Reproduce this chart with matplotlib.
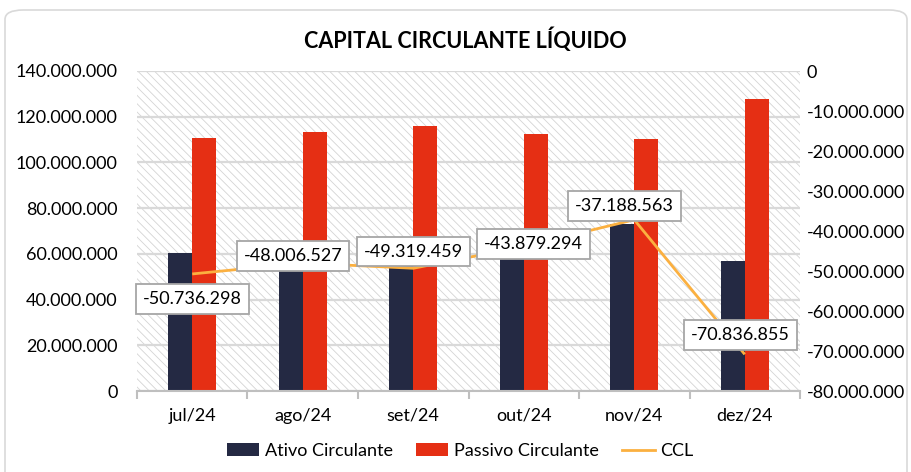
import matplotlib
matplotlib.use("Agg")
import matplotlib.pyplot as plt
from matplotlib.patches import FancyBboxPatch, Patch
from matplotlib.lines import Line2D
from matplotlib.ticker import FuncFormatter, FixedLocator
import numpy as np

plt.rcParams['font.family'] = ['Lato', 'DejaVu Sans']
plt.rcParams['hatch.linewidth'] = 0.6

categories = ["jul/24", "ago/24", "set/24", "out/24", "nov/24", "dez/24"]
ativo = [60_400_000, 65_500_000, 66_700_000, 68_600_000, 73_100_000, 57_000_000]
passivo = [110_600_000, 113_500_000, 116_000_000, 112_500_000, 110_300_000, 127_800_000]
ccl = [-50_736_298, -48_006_527, -49_319_459, -43_879_294, -37_188_563, -70_836_855]
ccl_labels = ["-50.736.298", "-48.006.527", "-49.319.459", "-43.879.294", "-37.188.563", "-70.836.855"]
label_offsets = [(0, -18), (-7, 5), (0, 12), (7, 2), (-7, 10), (-3, 14)]

C_ATIVO = "#242943"
C_PASSIVO = "#E52F14"
C_CCL = "#FBB040"
FS = 13

fig = plt.figure(figsize=(9.12, 4.72), dpi=100)
fig.patch.set_facecolor("white")
border = FancyBboxPatch((5 / 912, -0.05), 902 / 912, 1 - 10 / 472 + 0.05,
                        boxstyle="round,pad=0,rounding_size=0.02",
                        transform=fig.transFigure, facecolor="white",
                        edgecolor="#d9d9d9", linewidth=1.2, zorder=-10)
fig.patches.append(border)

ax = fig.add_axes([137 / 912, 81 / 472, 663 / 912, 320 / 472])
ax.patch.set_facecolor("white")
ax.patch.set_hatch("\\\\\\\\")
ax.patch.set_edgecolor("#d4d4d4")
ax.patch.set_linewidth(0)

x = np.arange(len(categories))
w = 0.217
ax.bar(x - w / 2, ativo, width=w, color=C_ATIVO, zorder=3)
ax.bar(x + w / 2, passivo, width=w, color=C_PASSIVO, zorder=3)

ax.set_ylim(0, 140_000_000)
ax.set_xlim(-0.5, len(categories) - 0.5)
ax.set_yticks(np.arange(0, 140_000_001, 20_000_000))
fmt = FuncFormatter(lambda v, p: f"{v:,.0f}".replace(",", "."))
ax.yaxis.set_major_formatter(fmt)
ax.grid(axis="y", color="#d9d9d9", linewidth=1.6, zorder=1)
ax.set_axisbelow(True)
for s in ["left", "right", "top"]:
    ax.spines[s].set_visible(False)
ax.spines["bottom"].set_color("#bfbfbf")
ax.spines["bottom"].set_linewidth(1.5)
ax.spines["bottom"].set_zorder(4)
ax.tick_params(axis="y", length=0, pad=14, labelsize=FS, labelcolor="#000000")
ax.set_xticks(x)
ax.set_xticklabels(categories)
ax.tick_params(axis="x", which="major", length=0, pad=12, labelsize=FS)
ax.xaxis.set_minor_locator(FixedLocator(np.arange(-0.5, len(categories), 1.0)))
ax.tick_params(axis="x", which="minor", length=6, width=1.5, color="#bfbfbf")

ax2 = ax.twinx()
ax2.set_ylim(-80_000_000, 0)
ax2.set_yticks(np.arange(-80_000_000, 1, 10_000_000))
ax2.yaxis.set_major_formatter(fmt)
for s in ["left", "right", "top", "bottom"]:
    ax2.spines[s].set_visible(False)
ax2.tick_params(axis="y", length=0, pad=5, labelsize=FS)
ax2.plot(x, ccl, color=C_CCL, linewidth=2.0, zorder=5, solid_capstyle="butt")

for xi, yi, lab, off in zip(x, ccl, ccl_labels, label_offsets):
    ax2.annotate(lab, (xi, yi), xytext=off, textcoords="offset points",
                 ha="center", va="center", fontsize=FS, zorder=6,
                 bbox=dict(boxstyle="square,pad=0.38", facecolor="white",
                           edgecolor="#a6a6a6", linewidth=1.3))

fig.text(465 / 912, 1 - 40 / 472, "CAPITAL CIRCULANTE LÍQUIDO", ha="center",
         va="center", fontsize=15.5, fontweight="bold")

handles = [Patch(facecolor=C_ATIVO), Patch(facecolor=C_PASSIVO),
           Line2D([0], [0], color=C_CCL, linewidth=2.0)]
fig.legend(handles, ["Ativo Circulante", "Passivo Circulante", "CCL"],
           loc="center", bbox_to_anchor=(460 / 912, 1 - 451 / 472), ncol=3,
           frameon=False, fontsize=FS, handlelength=1.8, handleheight=0.7,
           handletextpad=0.3, columnspacing=1.3)

fig.savefig("out.png", dpi=100, facecolor="white")
